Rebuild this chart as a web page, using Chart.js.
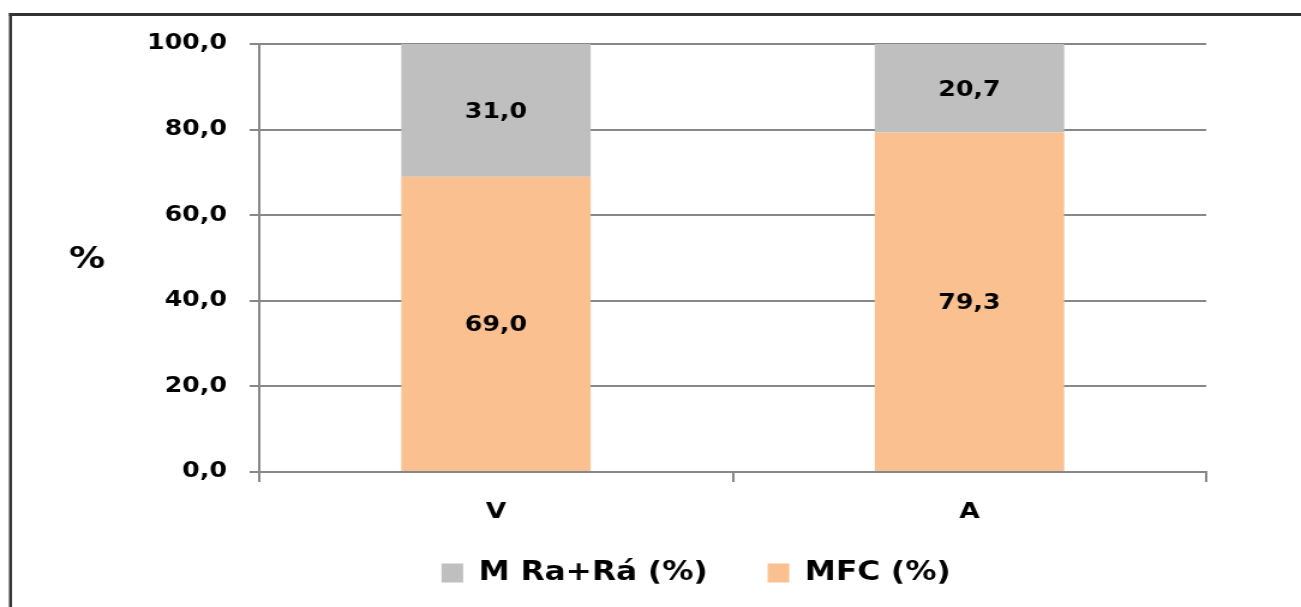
<!DOCTYPE html>
<html>
<head>
<meta charset="utf-8">
<script src="https://cdn.jsdelivr.net/npm/chart.js@4.4.1/dist/chart.umd.min.js"></script>
<style>
  html, body { margin: 0; padding: 0; background: #ffffff; overflow: hidden; }
  /* the drawing is laid out in a narrower box and widened horizontally */
  #wrap { position: relative; width: 1084px; height: 607px; transform: scaleX(1.2002); transform-origin: 0 0; }
</style>
</head>
<body>
<div id="wrap"><canvas id="chart"></canvas></div>
<script>
// Categories and stacked series (percent shares)
const categories = ['V', 'A'];
const seriesMFC = [69.0, 79.3];
const seriesMRa = [31.0, 20.7];
const seriesNames = ['MFC (%)', 'M Ra+Rá (%)'];
const yTickValues = [0, 20, 40, 60, 80, 100];
const yAxisLabel = '%';

const FONT = "'DejaVu Sans', Verdana, sans-serif";
const GRID = '#888888';
const fmt = v => Number(v).toFixed(1).replace('.', ',');

// Dark frame along the top and left edges
const framePlugin = {
  id: 'frame',
  beforeDraw(chart) {
    const ctx = chart.ctx;
    ctx.save();
    ctx.strokeStyle = '#333333';
    ctx.lineWidth = 3;
    ctx.beginPath();
    ctx.moveTo(7.5, 14.5);
    ctx.lineTo(chart.width + 5, 14.5);
    ctx.stroke();
    ctx.lineWidth = 2.5;
    ctx.beginPath();
    ctx.moveTo(8.75, 13);
    ctx.lineTo(8.75, chart.height + 5);
    ctx.stroke();
    ctx.restore();
  }
};

// Centre the legend row under the plot and set its baseline
const legendPlacePlugin = {
  id: 'legendPlace',
  afterLayout(chart) {
    const lg = chart.legend;
    if (!lg) return;
    const dx = 580 - (lg.left + lg.right) / 2;
    const dy = -11;
    lg.left += dx; lg.right += dx;
    lg.top += dy; lg.bottom += dy;
  }
};

// Value printed in the middle of each stacked segment
const valueLabelPlugin = {
  id: 'valueLabels',
  afterDatasetsDraw(chart) {
    const ctx = chart.ctx;
    ctx.save();
    ctx.font = `bold 21px ${FONT}`;
    ctx.fillStyle = '#000000';
    ctx.textAlign = 'center';
    ctx.textBaseline = 'middle';
    chart.data.datasets.forEach((ds, i) => {
      const meta = chart.getDatasetMeta(i);
      meta.data.forEach((bar, j) => {
        const p = bar.getProps(['x', 'y', 'base'], true);
        ctx.fillText(fmt(ds.data[j]), p.x, (p.y + p.base) / 2 + 2);
      });
    });
    ctx.restore();
  }
};

// Horizontal "%" title left of the value axis
const axisTitlePlugin = {
  id: 'axisTitle',
  afterDraw(chart) {
    const ctx = chart.ctx;
    const a = chart.chartArea;
    ctx.save();
    ctx.font = `bold 30px ${FONT}`;
    ctx.fillStyle = '#000000';
    ctx.textAlign = 'center';
    ctx.textBaseline = 'middle';
    ctx.fillText(yAxisLabel, a.left - 143.5, (a.top + a.bottom) / 2 + 2);
    ctx.restore();
  }
};

const tickFont = { family: FONT, size: 21, weight: 'bold' };

new Chart(document.getElementById('chart'), {
  type: 'bar',
  data: {
    labels: categories,
    datasets: [
      { label: seriesNames[0], data: seriesMFC, backgroundColor: '#FAC090', borderWidth: 0 },
      { label: seriesNames[1], data: seriesMRa, backgroundColor: '#BFBFBF', borderWidth: 0 }
    ]
  },
  options: {
    responsive: true,
    maintainAspectRatio: false,
    animation: false,
    datasets: { bar: { barPercentage: 0.4, categoryPercentage: 1.0 } },
    layout: { padding: { left: 100, right: 79, top: 44, bottom: 0 } },
    plugins: {
      legend: {
        position: 'bottom',
        reverse: true,
        labels: {
          font: { family: FONT, size: 26, weight: 'bold' },
          color: '#000000',
          boxWidth: 18,
          boxHeight: 19,
          padding: 50
        }
      },
      tooltip: { enabled: false }
    },
    scales: {
      x: {
        stacked: true,
        border: { color: GRID, width: 2 },
        grid: { drawOnChartArea: false, color: GRID, lineWidth: 2, tickLength: 10, offset: true },
        ticks: { font: { family: FONT, size: 22, weight: 'bold' }, color: '#000000', padding: 17 },
        afterFit(scale) { scale.height = 49; }
      },
      y: {
        stacked: true,
        min: 0,
        max: 100,
        border: { color: GRID, width: 2 },
        grid: { color: GRID, lineWidth: 2, tickLength: 8 },
        ticks: { font: tickFont, color: '#000000', padding: 19, callback: v => fmt(v) },
        afterBuildTicks(scale) { scale.ticks = yTickValues.map(v => ({ value: v })); },
        afterFit(scale) { scale.width = 116; }
      }
    }
  },
  plugins: [framePlugin, legendPlacePlugin, valueLabelPlugin, axisTitlePlugin]
});
</script>
</body>
</html>
